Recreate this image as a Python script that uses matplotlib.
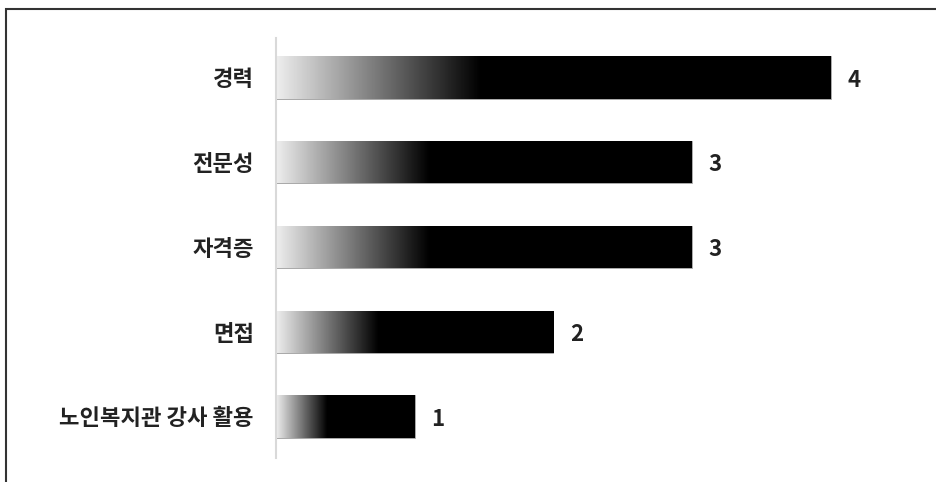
import numpy as np
import matplotlib
matplotlib.use("Agg")
import matplotlib.pyplot as plt
from matplotlib.patches import Rectangle

plt.rcParams["font.family"] = ["Noto Sans CJK KR", "DejaVu Sans"]

categories = ["경력", "전문성", "자격증", "면접", "노인복지관 강사 활용"]
counts = [4, 3, 3, 2, 1]

fig = plt.figure(figsize=(9.36, 4.82), dpi=100)
ax = fig.add_axes([276/936, 24/482, 624/936, 420/482])

pos = np.arange(len(categories))
bars = ax.barh(pos, counts, height=0.5, facecolor="none", edgecolor="#9a9a9a", lw=0.6)

# gradient: light grey -> black over the first ~37% of each bar, then solid
ramp = np.concatenate([np.linspace(0.93, 0.0, 95), np.zeros(161)])[None, :]
for b in bars:
    x0, y0 = b.get_x(), b.get_y()
    w, h = b.get_width(), b.get_height()
    im = ax.imshow(ramp, cmap="gray", vmin=0, vmax=1, aspect="auto",
                   extent=(x0, x0 + w, y0 + h, y0), interpolation="bilinear", zorder=1)
    im.set_clip_path(b)

for p, v in zip(pos, counts):
    ax.text(v + 0.12, p + 0.03, str(v), va="center", ha="left", fontsize=16,
            fontweight="bold", color="#222222")

ax.set_xlim(0, 4.5)
ax.set_ylim(4.49, -0.466)
ax.set_yticks(pos)
ax.set_yticklabels(categories, fontsize=16, fontweight="bold", color="#222222")
ax.tick_params(axis="y", length=0, pad=16)
ax.set_xticks([])
for s in ["top", "right", "bottom"]:
    ax.spines[s].set_visible(False)
ax.spines["left"].set_color("#d9d9d9")
ax.spines["left"].set_linewidth(1.5)

fig.patches.append(Rectangle((6/936, -0.1), 1.2, 1 - 9/482 + 0.1,
                             transform=fig.transFigure, fill=False,
                             edgecolor="#333333", lw=1.5))

fig.savefig("out.png", dpi=100)
